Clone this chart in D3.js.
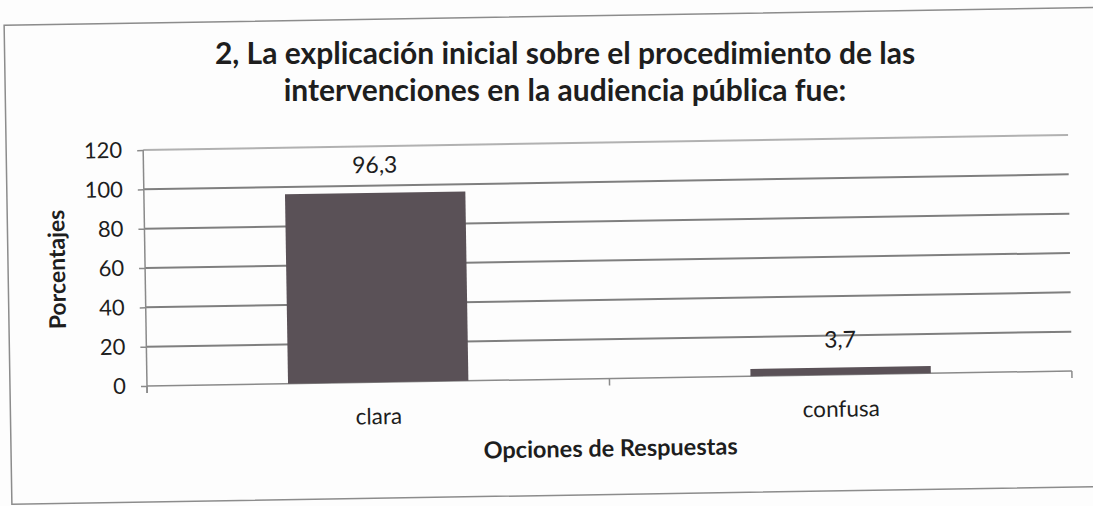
<!DOCTYPE html>
<html lang="es">
  <head>
    <meta charset="utf-8"/>
    <title>Explicación inicial - audiencia pública</title>
    <script src="https://cdn.jsdelivr.net/npm/d3@7"></script>
    <style>
      body { margin: 0; background: #fdfdfd; }
      text { font-family: "Lato", sans-serif; fill: #1e1e1e; }
      .grid line { stroke: #7f7f7f; stroke-width: 2; }
      .axis path, .axis line { stroke: #8a8a8a; stroke-width: 1.5; }
    </style>
  </head>
  <body>
    <div id="chart"></div>
    <script>
      // data
      var categories = ["clara", "confusa"];
      var values = [96.3, 3.7];
      var valueLabels = ["96,3", "3,7"];
      var yTicks = [0, 20, 40, 60, 80, 100, 120];
      var titleLines = ["2, La explicación inicial sobre el procedimiento de las",
                        "intervenciones en la audiencia pública fue:"];

      var W = 1093, H = 506;
      // plot area (before the slight scan tilt)
      var plotLeft = 147, plotRight = 1072, plotTop = 150, plotBottom = 386;

      var svg = d3.select("#chart").append("svg")
        .attr("width", W)
        .attr("height", H);

      // whole page is a bit tilted in the scan
      var g = svg.append("g")
        .attr("transform", "rotate(-0.93," + plotLeft + "," + plotBottom + ")");

      // outer frame
      g.append("rect")
        .attr("x", 10)
        .attr("y", 23)
        .attr("width", 1100)
        .attr("height", 479)
        .attr("fill", "none")
        .attr("stroke", "#8c8c8c")
        .attr("stroke-width", 1.5);

      var x = d3.scaleBand()
        .domain(categories)
        .range([plotLeft, plotRight])
        .paddingInner(0.61)
        .paddingOuter(0.305);

      var y = d3.scaleLinear()
        .domain([0, 120])
        .range([plotBottom, plotTop]);

      // gridlines
      g.append("g")
        .attr("class", "grid")
        .selectAll("line")
        .data(yTicks.filter(function(d){ return d > 0; }))
        .enter()
        .append("line")
        .attr("x1", plotLeft)
        .attr("x2", plotRight)
        .attr("y1", function(d){ return y(d); })
        .attr("y2", function(d){ return y(d); })
        .attr("stroke-opacity", function(d){ return d == 120 ? 0.6 : 1; });

      // y axis
      var yAxis = g.append("g")
        .attr("class", "axis")
        .attr("transform", "translate(" + plotLeft + ",0)")
        .call(d3.axisLeft(y).tickValues(yTicks).tickSize(6).tickPadding(15));
      yAxis.select(".domain").remove();
      yAxis.append("line")
        .attr("x1", 0).attr("x2", 0)
        .attr("y1", plotTop).attr("y2", plotBottom + 7);
      yAxis.selectAll("text")
        .style("font-size", "22px")
        .style("font-family", "Lato, sans-serif")
        .attr("fill", "#1e1e1e");

      // x axis with ticks at band edges
      var xAxisG = g.append("g")
        .attr("class", "axis");
      xAxisG.append("line")
        .attr("x1", plotLeft).attr("x2", plotRight)
        .attr("y1", plotBottom).attr("y2", plotBottom);
      xAxisG.selectAll("line.tick")
        .data([plotLeft, (plotLeft + plotRight) / 2, plotRight])
        .enter()
        .append("line")
        .attr("class", "tick")
        .attr("x1", function(d){ return d; })
        .attr("x2", function(d){ return d; })
        .attr("y1", plotBottom)
        .attr("y2", plotBottom + 7);

      // bars
      g.selectAll("rect.bar")
        .data(values)
        .enter()
        .append("rect")
        .attr("class", "bar")
        .attr("x", function(d, i){ return x(categories[i]); })
        .attr("y", function(d){ return y(d); })
        .attr("width", x.bandwidth())
        .attr("height", function(d){ return plotBottom - y(d); })
        .attr("fill", "#5a5157");

      // value labels
      g.selectAll("text.val")
        .data(values)
        .enter()
        .append("text")
        .attr("class", "val")
        .attr("x", function(d, i){ return x(categories[i]) + x.bandwidth() / 2; })
        .attr("y", function(d){ return y(d) - 20; })
        .attr("text-anchor", "middle")
        .style("font-size", "23px")
        .text(function(d, i){ return valueLabels[i]; });

      // category labels
      g.selectAll("text.cat")
        .data(categories)
        .enter()
        .append("text")
        .attr("class", "cat")
        .attr("x", function(d){ return x(d) + x.bandwidth() / 2; })
        .attr("y", plotBottom + 42)
        .attr("text-anchor", "middle")
        .style("font-size", "22.5px")
        .text(function(d){ return d; });

      // axis titles
      g.append("text")
        .attr("x", (plotLeft + plotRight) / 2)
        .attr("y", plotBottom + 78)
        .attr("text-anchor", "middle")
        .style("font-size", "23.5px")
        .style("font-weight", "bold")
        .text("Opciones de Respuestas");

      g.append("text")
        .attr("transform", "translate(67," + (plotBottom + plotTop) / 2 + ")rotate(-90)")
        .attr("text-anchor", "middle")
        .style("font-size", "23px")
        .style("font-weight", "bold")
        .text("Porcentajes");

      // title (kept level so the two lines don't collide)
      svg.selectAll("text.title")
        .data(titleLines)
        .enter()
        .append("text")
        .attr("class", "title")
        .attr("x", 565)
        .attr("y", function(d, i){ return 64 + i * 36.5; })
        .attr("text-anchor", "middle")
        .style("font-size", "30px")
        .style("font-weight", "bold")
        .text(function(d){ return d; });
    </script>
  </body>
</html>
